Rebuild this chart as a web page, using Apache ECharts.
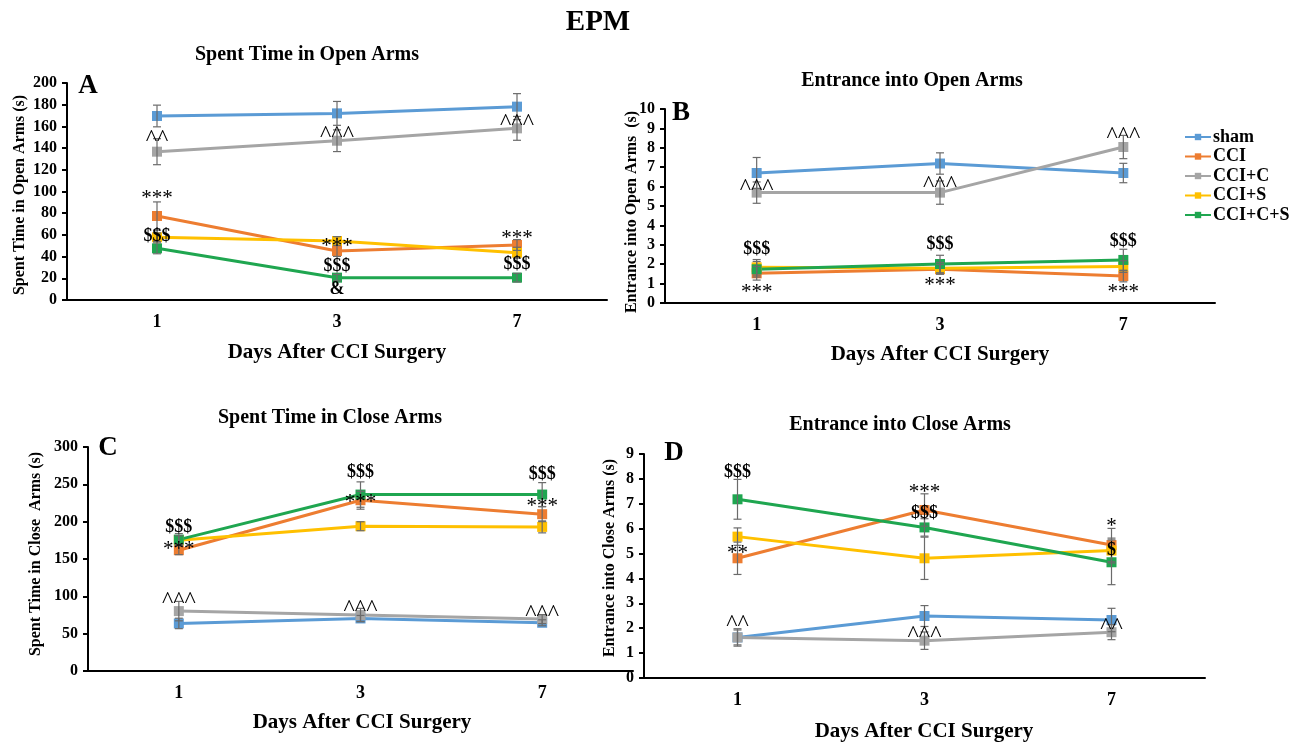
<!DOCTYPE html>
<html>
<head>
<meta charset="utf-8">
<script src="https://cdn.jsdelivr.net/npm/echarts@6/dist/echarts.min.js"></script>
<style>
html,body{margin:0;padding:0;background:#fff;}
#chart{width:1302px;height:742px;}
</style>
</head>
<body>
<div id="chart"></div>
<script>
// ---------- data ----------
const days = ['1', '3', '7'];
const groups = ['sham', 'CCI', 'CCI+C', 'CCI+S', 'CCI+C+S'];

// Panel A: Spent time in open arms (s) — rows follow `groups`
const openTimeMean = [
  [169.6, 172.0, 178.2],
  [77.4, 45.2, 50.7],
  [136.7, 146.8, 158.2],
  [57.8, 54.4, 43.6],
  [47.6, 20.6, 20.6]
];
const openTimeErr = [
  [10, 11, 12],
  [13, 5, 5],
  [12, 10, 11],
  [4, 4, 5],
  [5, 3, 4]
];
const openTimeMarks = [
  [0, 153.6, '^^'], [1, 157.3, '^^^'], [2, 168.4, '^^^'],
  [0, 96.8, '***'], [0, 59, '$$$'],
  [1, 53.1, '***'], [1, 30.7, '$$$'], [1, 9.8, '&'],
  [2, 60.8, '***'], [2, 33.2, '$$$']
];

// Panel B: Entrance into open arms
const openEntryMean = [
  [6.70, 7.19, 6.70],
  [1.53, 1.74, 1.39],
  [5.69, 5.69, 8.04],
  [1.84, 1.79, 1.88],
  [1.74, 2.01, 2.22]
];
const openEntryErr = [
  [0.8, 0.55, 0.5],
  [0.35, 0.25, 0.3],
  [0.55, 0.6, 0.6],
  [0.4, 0.3, 0.3],
  [0.4, 0.45, 0.55]
];
const openEntryMarks = [
  [0, 6.21, '^^^'], [1, 6.38, '^^^'], [2, 8.9, '^^^'],
  [0, 2.77, '$$$'], [1, 3.03, '$$$'], [2, 3.2, '$$$'],
  [0, 0.76, '***'], [1, 1.1, '***'], [2, 0.76, '***']
];

// Panel C: Spent time in close arms (s)
const closeTimeMean = [
  [63.7, 70.4, 64.6],
  [161.8, 228.7, 210.0],
  [80.2, 74.9, 69.5],
  [175.2, 193.9, 193.0],
  [176.0, 236.3, 236.3]
];
const closeTimeErr = [
  [7, 4, 4],
  [6, 12, 10],
  [13, 9, 6],
  [6, 6, 8],
  [8, 17, 16]
];
const closeTimeMarks = [
  [0, 193, '$$$'], [1, 266.6, '$$$'], [2, 263.5, '$$$'],
  [0, 168.5, '***'], [1, 231, '***'], [2, 225.1, '***'],
  [0, 100.3, '^^^'], [1, 90.5, '^^^'], [2, 83.8, '^^^']
];

// Panel D: Entrance into close arms
const closeEntryMean = [
  [1.63, 2.49, 2.33],
  [4.81, 6.75, 5.34],
  [1.63, 1.50, 1.84],
  [5.68, 4.81, 5.12],
  [7.18, 6.05, 4.65]
];
const closeEntryErr = [
  [0.35, 0.42, 0.47],
  [0.65, 0.65, 0.67],
  [0.3, 0.35, 0.3],
  [0.35, 0.85, 0.5],
  [0.8, 0.35, 0.9]
];
const closeEntryMarks = [
  [0, 8.25, '$$$'], [1, 6.62, '$$$'], [1, 7.62, '***'],
  [0, 5.17, '**'], [2, 6.24, '*'], [2, 5.12, '$'],
  [0, 2.4, '^^'], [1, 1.96, '^^^'], [2, 2.26, '^^']
];

// ---------- styling ----------
const colors = ['#5B9BD5', '#ED7D31', '#A5A5A5', '#FFC000', '#1FA650'];
const SERIF = '"Liberation Serif", "Times New Roman", serif';

const panels = [
  { mean: openTimeMean, err: openTimeErr, marks: openTimeMarks,
    grid: { left: 67, top: 83, width: 540, height: 217 },
    y: { min: 0, max: 200, interval: 20 },
    title: 'Spent Time in Open Arms', tx: 307, ty: 55,
    letter: 'A', lx: 88, ly: 86,
    yname: 'Spent Time in Open Arms (s)', ynx: 20, yny: 195,
    xnx: 337, xny: 353 },
  { mean: openEntryMean, err: openEntryErr, marks: openEntryMarks,
    grid: { left: 665, top: 109, width: 550, height: 194 },
    y: { min: 0, max: 10, interval: 1 },
    title: 'Entrance into Open Arms', tx: 912, ty: 81,
    letter: 'B', lx: 681, ly: 113,
    yname: 'Entrance into Open Arms  (s)', ynx: 632, yny: 212,
    xnx: 940, xny: 355 },
  { mean: closeTimeMean, err: closeTimeErr, marks: closeTimeMarks,
    grid: { left: 88, top: 447, width: 545, height: 224 },
    y: { min: 0, max: 300, interval: 50 },
    title: 'Spent Time in Close Arms', tx: 330, ty: 418,
    letter: 'C', lx: 108, ly: 448,
    yname: 'Spent Time in Close  Arms (s)', ynx: 36, yny: 554,
    xnx: 362, xny: 723 },
  { mean: closeEntryMean, err: closeEntryErr, marks: closeEntryMarks,
    grid: { left: 644, top: 454, width: 561, height: 224 },
    y: { min: 0, max: 9, interval: 1 },
    title: 'Entrance into Close Arms', tx: 900, ty: 425,
    letter: 'D', lx: 674, ly: 453,
    yname: 'Entrance into Close Arms (s)', ynx: 610, yny: 558,
    xnx: 924, xny: 732 }
];

const grids = [], xAxes = [], yAxes = [], series = [], graphics = [];

graphics.push({ type: 'text', x: 598, y: 23, style: { text: 'EPM', font: 'bold 29px ' + SERIF, fill: '#000', align: 'center', verticalAlign: 'middle' } });

panels.forEach((p, pi) => {
  grids.push(Object.assign({ containLabel: false }, p.grid));
  xAxes.push({
    type: 'category', gridIndex: pi, data: days, boundaryGap: true,
    axisLine: { lineStyle: { color: '#000', width: 2 } },
    axisTick: { alignWithLabel: true, length: 5, lineStyle: { color: '#000', width: 2 } },
    axisLabel: { color: '#000', fontFamily: SERIF, fontWeight: 'bold', fontSize: 18, margin: 13 },
    splitLine: { show: false }
  });
  yAxes.push({
    type: 'value', gridIndex: pi, min: p.y.min, max: p.y.max, interval: p.y.interval,
    axisLine: { show: true, lineStyle: { color: '#000', width: 2 } },
    axisTick: { show: true, length: 5, lineStyle: { color: '#000', width: 2 } },
    axisLabel: { color: '#000', fontFamily: SERIF, fontWeight: 'bold', fontSize: 16, margin: 10 },
    splitLine: { show: false }
  });

  groups.forEach((g, gi) => {
    series.push({
      name: g, type: 'line', xAxisIndex: pi, yAxisIndex: pi,
      data: p.mean[gi], symbol: 'rect', symbolSize: 10,
      itemStyle: { color: colors[gi] },
      lineStyle: { color: colors[gi], width: 3 },
      z: 3, animation: false
    });
  });

  // error bars
  const ebData = [];
  groups.forEach((g, gi) => {
    p.mean[gi].forEach((m, di) => ebData.push([di, m, p.err[gi][di]]));
  });
  series.push({
    name: 'err' + pi, type: 'custom', xAxisIndex: pi, yAxisIndex: pi,
    data: ebData, z: 4, silent: true, animation: false,
    renderItem: function (params, api) {
      const x = api.value(0), m = api.value(1), e = api.value(2);
      const hi = api.coord([x, m + e]);
      const lo = api.coord([x, m - e]);
      const cw = 4;
      const st = { stroke: '#6b6b6b', lineWidth: 1.2 };
      return { type: 'group', children: [
        { type: 'line', shape: { x1: hi[0], y1: hi[1], x2: lo[0], y2: lo[1] }, style: st },
        { type: 'line', shape: { x1: hi[0] - cw, y1: hi[1], x2: hi[0] + cw, y2: hi[1] }, style: st },
        { type: 'line', shape: { x1: lo[0] - cw, y1: lo[1], x2: lo[0] + cw, y2: lo[1] }, style: st }
      ]};
    }
  });

  // significance marks
  series.push({
    name: 'marks' + pi, type: 'custom', xAxisIndex: pi, yAxisIndex: pi,
    data: p.marks, z: 6, silent: true, animation: false,
    renderItem: function (params, api) {
      const pt = api.coord([api.value(0), api.value(1)]);
      const t = p.marks[params.dataIndex][2];
      let font, dy = 0;
      if (t.indexOf('$') >= 0 || t === '&') { font = 'bold 18px ' + SERIF; }
      else if (t.indexOf('^') >= 0) { font = '24px ' + SERIF; dy = 5; }
      else { font = '21px ' + SERIF; dy = 4; }
      return { type: 'text', x: pt[0], y: pt[1] + dy,
        style: { text: t, font: font, fill: '#000', align: 'center', verticalAlign: 'middle' } };
    }
  });

  graphics.push({ type: 'text', x: p.tx, y: p.ty, style: { text: p.title, font: 'bold 20px ' + SERIF, fill: '#000', align: 'center', verticalAlign: 'middle' } });
  graphics.push({ type: 'text', x: p.lx, y: p.ly, style: { text: p.letter, font: 'bold 27px ' + SERIF, fill: '#000', align: 'center', verticalAlign: 'middle' } });
  graphics.push({ type: 'text', x: p.xnx, y: p.xny, style: { text: 'Days After CCI Surgery', font: 'bold 21px ' + SERIF, fill: '#000', align: 'center', verticalAlign: 'middle' } });
  graphics.push({ type: 'text', x: p.ynx, y: p.yny, rotation: Math.PI / 2, style: { text: p.yname, font: 'bold 16px ' + SERIF, fill: '#000', align: 'center', verticalAlign: 'middle' } });
});

const chart = echarts.init(document.getElementById('chart'), null, { renderer: 'canvas' });
chart.setOption({
  backgroundColor: '#fff',
  animation: false,
  grid: grids,
  xAxis: xAxes,
  yAxis: yAxes,
  legend: {
    data: groups, orient: 'vertical', left: 1184, top: 128, padding: 0,
    itemWidth: 26, itemHeight: 8, itemGap: 1.5,
    textStyle: { fontFamily: SERIF, fontWeight: 'bold', fontSize: 18, color: '#000', lineHeight: 17, padding: [0, 0, 0, -3] },
    selectedMode: false
  },
  series: series,
  graphic: graphics
});
</script>
</body>
</html>
